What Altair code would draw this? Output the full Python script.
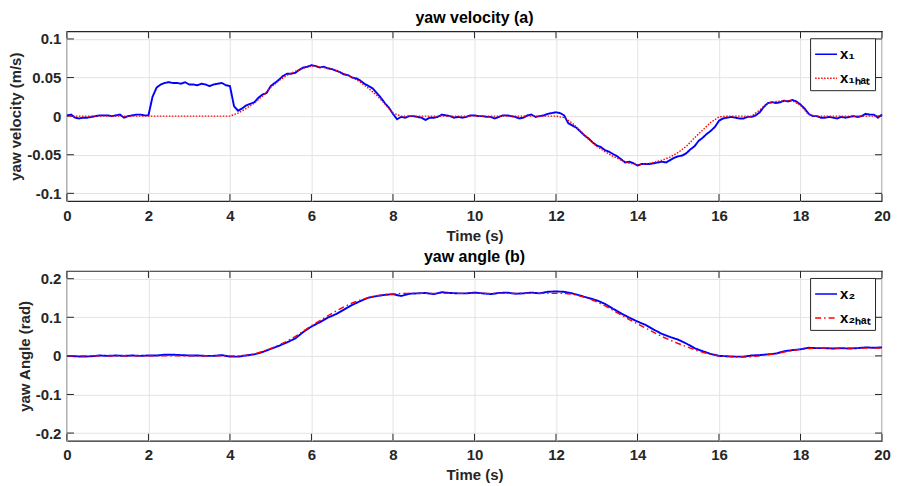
import altair as alt
import pandas as pd

# ---------------- data ----------------
# yaw velocity x1 (blue), sampled every 0.1 s from 0 to 20 s
x1_vals = [
    0.001, 0.002, -0.002, -0.003, -0.002, -0.002, -0.001, 0.000, 0.001, 0.001,
    0.001, 0.000, 0.001, 0.002, -0.002, 0.000, 0.001, 0.002, 0.002, 0.001,
    0.001, 0.025, 0.037, 0.041, 0.043, 0.044, 0.043, 0.043, 0.042, 0.044,
    0.041, 0.041, 0.040, 0.042, 0.041, 0.039, 0.041, 0.042, 0.043, 0.040,
    0.039, 0.013, 0.007, 0.010, 0.014, 0.016, 0.018, 0.024, 0.028, 0.030,
    0.039, 0.043, 0.047, 0.052, 0.055, 0.055, 0.056, 0.060, 0.063, 0.064,
    0.066, 0.065, 0.063, 0.064, 0.062, 0.061, 0.059, 0.057, 0.054, 0.053,
    0.050, 0.049, 0.046, 0.042, 0.039, 0.036, 0.030, 0.024, 0.017, 0.011,
    0.003, -0.004, -0.001, -0.002, 0.000, 0.000, -0.001, -0.002, -0.005, -0.002,
    -0.002, -0.001, 0.002, 0.001, 0.000, -0.002, -0.001, -0.002, -0.001, 0.001,
    0.001, 0.000, 0.000, -0.001, -0.001, -0.003, -0.001, 0.001, 0.001, 0.000,
    -0.001, -0.003, -0.002, 0.001, 0.002, -0.001, 0.000, 0.001, 0.003, 0.004,
    0.005, 0.004, 0.001, -0.009, -0.012, -0.015, -0.020, -0.025, -0.029, -0.034,
    -0.038, -0.040, -0.044, -0.046, -0.049, -0.052, -0.056, -0.060, -0.059, -0.061,
    -0.064, -0.062, -0.062, -0.062, -0.061, -0.060, -0.059, -0.060, -0.057, -0.054,
    -0.052, -0.051, -0.048, -0.043, -0.039, -0.032, -0.028, -0.023, -0.019, -0.014,
    -0.006, -0.003, -0.002, -0.001, -0.002, -0.003, -0.003, -0.001, -0.001, 0.001,
    0.005, 0.012, 0.017, 0.018, 0.017, 0.018, 0.020, 0.019, 0.021, 0.019,
    0.015, 0.010, 0.003, 0.000, 0.000, -0.002, -0.002, -0.001, -0.002, -0.003,
    -0.001, -0.002, -0.001, 0.000, -0.001, 0.000, 0.003, 0.002, 0.002, -0.002,
    0.002,
]
# estimated yaw velocity x1hat (red dotted), every 0.2 s
x1hat_vals = [
    0.0, 0.0, 0.0, 0.0, 0.0, 0.0, 0.0, 0.0, 0.0, 0.0,
    0.0, 0.0, 0.0, 0.0, 0.0, 0.0, 0.0, 0.0, 0.0, 0.0,
    0.0, 0.004, 0.010, 0.017, 0.026, 0.037, 0.046, 0.053, 0.058, 0.062,
    0.065, 0.064, 0.062, 0.059, 0.055, 0.050, 0.044, 0.036, 0.027, 0.016,
    0.004, 0.0, 0.0, 0.0, 0.0, 0.0, 0.0, 0.0, 0.0, 0.0,
    0.0, 0.0, 0.0, 0.0, 0.0, 0.0, 0.0, 0.0, 0.0, 0.0,
    0.0, -0.002, -0.009, -0.019, -0.030, -0.039, -0.046, -0.052, -0.057, -0.061,
    -0.063, -0.062, -0.060, -0.057, -0.053, -0.047, -0.039, -0.028, -0.018, -0.008,
    -0.001, 0.0, 0.0, 0.0, 0.0, 0.008, 0.017, 0.019, 0.020, 0.020,
    0.014, 0.002, 0.0, 0.0, 0.0, 0.0, 0.0, 0.0, 0.0, 0.0,
    0.0,
]
# yaw angle x2 (blue), every 0.2 s
x2_vals = [
    0.000, -0.001, -0.002, -0.001, 0.001, 0.000, 0.001, 0.000, 0.001, 0.000,
    0.001, 0.001, 0.003, 0.003, 0.002, 0.001, 0.001, 0.000, 0.000, 0.002,
    -0.002, -0.002, 0.001, 0.004, 0.010, 0.018, 0.026, 0.035, 0.045, 0.062,
    0.076, 0.087, 0.099, 0.108, 0.120, 0.132, 0.142, 0.151, 0.155, 0.158,
    0.160, 0.155, 0.161, 0.162, 0.163, 0.160, 0.165, 0.163, 0.162, 0.162,
    0.164, 0.162, 0.160, 0.163, 0.164, 0.161, 0.162, 0.164, 0.162, 0.166,
    0.167, 0.166, 0.162, 0.156, 0.150, 0.144, 0.135, 0.122, 0.110, 0.099,
    0.089, 0.080, 0.068, 0.057, 0.049, 0.042, 0.032, 0.020, 0.012, 0.005,
    0.000, -0.001, -0.002, -0.002, 0.001, 0.002, 0.004, 0.006, 0.012, 0.015,
    0.017, 0.021, 0.020, 0.020, 0.019, 0.020, 0.019, 0.020, 0.022, 0.021,
    0.022,
]
# estimated yaw angle x2hat (red dash-dot), every 0.2 s
x2hat_vals = [
    0.0, 0.0, 0.0, 0.0, 0.0, 0.0, 0.0, 0.0, 0.0, 0.0,
    0.0, 0.0, 0.0, 0.0, 0.0, 0.0, 0.0, 0.0, 0.0, 0.0,
    0.0, 0.0, 0.002, 0.005, 0.011, 0.019, 0.028, 0.038, 0.050, 0.064,
    0.078, 0.091, 0.104, 0.116, 0.127, 0.137, 0.145, 0.151, 0.156, 0.159,
    0.160, 0.162, 0.162, 0.162, 0.162, 0.162, 0.162, 0.162, 0.162, 0.162,
    0.162, 0.162, 0.162, 0.162, 0.162, 0.162, 0.162, 0.162, 0.162, 0.162,
    0.162, 0.162, 0.160, 0.155, 0.149, 0.140, 0.130, 0.118, 0.106, 0.094,
    0.083, 0.072, 0.061, 0.050, 0.041, 0.032, 0.024, 0.016, 0.009, 0.004,
    0.000, -0.002, -0.003, -0.003, -0.002, 0.000, 0.003, 0.006, 0.010, 0.014,
    0.017, 0.019, 0.020, 0.020, 0.020, 0.020, 0.020, 0.020, 0.020, 0.020,
    0.020,
]

x_ticks = [0, 2, 4, 6, 8, 10, 12, 14, 16, 18, 20]
y1_ticks = [-0.1, -0.05, 0, 0.05, 0.1]
y2_ticks = [-0.2, -0.1, 0, 0.1, 0.2]

S1, S1H = "x\u2081", "x\u2081\u2095\u2090\u209c"
S2, S2H = "x\u2082", "x\u2082\u2095\u2090\u209c"


def frame(vals, step, name):
    return pd.DataFrame({"t": [round(i * step, 2) for i in range(len(vals))],
                         "v": vals, "series": name})


df1 = pd.concat([frame(x1_vals, 0.1, S1), frame(x1hat_vals, 0.2, S1H)])
df2 = pd.concat([frame(x2_vals, 0.2, S2), frame(x2hat_vals, 0.2, S2H)])

FONT = "Liberation Sans"
W, H = 816, 170
TICK = "#262626"
TL = 7  # inner tick length in px


def panel(df, names, dash, ydom, yticks, ytitle, title, toff):
    xs = alt.Scale(domain=[0, 20], nice=False)
    ys = alt.Scale(domain=ydom, nice=False)
    x = alt.X("t:Q", scale=xs,
              axis=alt.Axis(values=x_ticks, title="Time (s)", labelPadding=7,
                            labelFlush=False, titlePadding=5))
    y = alt.Y("v:Q", scale=ys,
              axis=alt.Axis(values=yticks, title=ytitle, labelExpr="toString(datum.value)",
                            labelPadding=6, titlePadding=3))
    color = alt.Color("series:N", scale=alt.Scale(domain=names, range=["#0000ff", "#ff0000"]),
                      legend=alt.Legend(title=None, orient="top-right",
                                        symbolType="stroke", symbolSize=480,
                                        symbolStrokeWidth=1.5,
                                        labelFont=FONT, labelFontSize=15,
                                        labelFontWeight="bold", labelColor="#000000",
                                        labelOffset=2,
                                        fillColor="white", strokeColor="#262626",
                                        padding=4, offset=7, rowPadding=4))
    sdash = alt.StrokeDash("series:N", scale=alt.Scale(domain=names, range=[[1, 0], dash]),
                           legend=None)
    # inward tick marks on all four sides (MATLAB box style)
    xt = pd.DataFrame({"tk": x_ticks})
    yt = pd.DataFrame({"tk": yticks})
    xtick_b = alt.Chart(xt).mark_rule(color=TICK, strokeWidth=1).encode(
        x=alt.X("tk:Q", scale=xs), y=alt.value(H), y2=alt.value(H - TL))
    xtick_t = alt.Chart(xt).mark_rule(color=TICK, strokeWidth=1).encode(
        x=alt.X("tk:Q", scale=xs), y=alt.value(0), y2=alt.value(TL))
    ytick_l = alt.Chart(yt).mark_rule(color=TICK, strokeWidth=1).encode(
        y=alt.Y("tk:Q", scale=ys), x=alt.value(0), x2=alt.value(TL))
    ytick_r = alt.Chart(yt).mark_rule(color=TICK, strokeWidth=1).encode(
        y=alt.Y("tk:Q", scale=ys), x=alt.value(W - TL), x2=alt.value(W))
    blue = alt.Chart(df[df.series == names[0]]).mark_line(strokeWidth=1.9).encode(
        x=x, y=y, color=color, strokeDash=sdash)
    red = alt.Chart(df[df.series == names[1]]).mark_line(strokeWidth=1.4).encode(
        x=x, y=y, color=color, strokeDash=sdash)
    return alt.layer(xtick_b, xtick_t, ytick_l, ytick_r, blue, red).properties(
        width=W, height=H,
        title=alt.TitleParams(title, font=FONT, fontSize=16, fontWeight="bold",
                              color="#000000", offset=toff))


top = panel(df1, [S1, S1H], [1.5, 1.5], [-0.11, 0.11], y1_ticks, "yaw velocity (m/s)",
            "yaw velocity (a)", 5)
bottom = panel(df2, [S2, S2H], [6, 3, 1.5, 3], [-0.22, 0.22], y2_ticks, "yaw Angle (rad)",
               "yaw angle (b)", 5)

chart = alt.vconcat(top, bottom, spacing=4).resolve_scale(
    color="independent", strokeDash="independent").resolve_legend(
    color="independent", strokeDash="independent").properties(
    padding={"left": 0, "top": 0, "right": 0, "bottom": 0}
).configure_axis(
    labelFont=FONT, labelFontSize=15, labelFontWeight="bold", labelColor="#262626",
    titleFont=FONT, titleFontSize=15, titleFontWeight="bold", titleColor="#262626",
    gridColor="#e3e3e3", gridWidth=1, domain=False, ticks=False,
).configure_view(stroke="#262626", strokeWidth=1.2)

chart.save("out.html", embed_options={"renderer": "svg", "actions": False})
